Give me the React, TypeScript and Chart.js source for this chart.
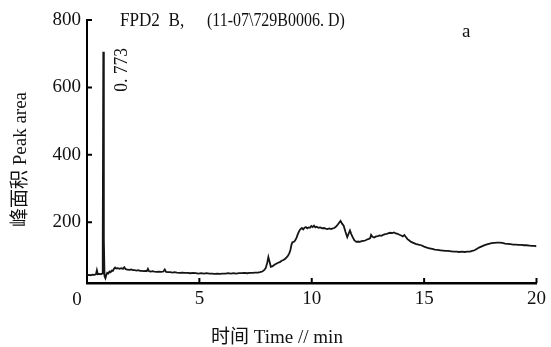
import React, { useEffect, useRef } from "react";
import { Chart, registerables } from "chart.js";

Chart.register(...registerables);

// ---- data ----
const timeMin: number[] = [
  0.0, 0.08, 0.16, 0.24, 0.32, 0.4, 0.44, 0.48, 0.55, 0.62, 0.67, 0.7, 0.725, 0.75, 0.78, 0.82, 0.86, 0.9, 0.95,
  1.0, 1.05, 1.1, 1.15, 1.2, 1.25, 1.3, 1.37, 1.45, 1.52, 1.6, 1.66, 1.72, 1.8, 1.88, 1.96,
  2.04, 2.12, 2.2, 2.28, 2.36, 2.44, 2.52, 2.6, 2.66, 2.71, 2.76, 2.84, 2.92,
  3.0, 3.1, 3.2, 3.3, 3.4, 3.46, 3.52, 3.6, 3.7, 3.8, 3.9,
  4.0, 4.12, 4.24, 4.36, 4.48, 4.6, 4.72, 4.84, 4.96,
  5.08, 5.2, 5.32, 5.44, 5.56, 5.68, 5.8, 5.92,
  6.04, 6.16, 6.28, 6.4, 6.52, 6.64, 6.76, 6.88,
  7.0, 7.12, 7.24, 7.36, 7.48, 7.6, 7.7, 7.8, 7.88, 7.95,
  8.02, 8.07, 8.12, 8.18, 8.26, 8.34, 8.42, 8.5, 8.58, 8.66, 8.74, 8.82, 8.88, 8.94,
  9.0, 9.05, 9.1, 9.14, 9.2, 9.26, 9.32, 9.38, 9.44, 9.5, 9.56, 9.62, 9.68, 9.74, 9.8, 9.86, 9.92, 9.98,
  10.04, 10.1, 10.16, 10.22, 10.3, 10.38, 10.46, 10.54, 10.62, 10.7, 10.78, 10.86, 10.94,
  11.0, 11.06, 11.12, 11.2, 11.28, 11.35, 11.42, 11.5, 11.58, 11.64, 11.7, 11.76, 11.82, 11.9, 11.98,
  12.06, 12.14, 12.22, 12.3, 12.38, 12.46, 12.54, 12.6, 12.64, 12.7, 12.78, 12.86, 12.94,
  13.02, 13.1, 13.18, 13.26, 13.34, 13.42, 13.5, 13.58, 13.66, 13.74, 13.82, 13.9, 13.98,
  14.05, 14.12, 14.18, 14.26, 14.34, 14.42, 14.52, 14.62, 14.74, 14.87,
  15.0, 15.12, 15.24, 15.36, 15.48, 15.6, 15.72, 15.84, 15.96,
  16.08, 16.2, 16.32, 16.44, 16.56, 16.68, 16.8, 16.92,
  17.04, 17.14, 17.24, 17.34, 17.44, 17.54, 17.64, 17.76, 17.88,
  18.0, 18.12, 18.24, 18.36, 18.48, 18.6, 18.72, 18.84, 18.96,
  19.08, 19.2, 19.32, 19.44, 19.56, 19.68, 19.8, 19.9, 20.0,
];

const peakArea: number[] = [
  43, 44, 43, 45, 44, 46, 58, 46, 47, 46, 48, 140, 706, 150, 40, 34, 44, 50, 48,
  54, 52, 57, 56, 62, 66, 63, 64, 62, 64, 62, 67, 61, 60, 59, 60,
  58, 58, 57, 58, 56, 56, 55, 56, 55, 62, 55, 54, 55,
  54, 53, 54, 53, 54, 60, 53, 52, 52, 51, 52,
  51, 50, 51, 50, 50, 49, 50, 49, 48,
  49, 48, 49, 48, 48, 47, 48, 47,
  48, 48, 49, 48, 49, 48, 49, 49,
  50, 49, 50, 50, 51, 51, 52, 54, 58, 64,
  80, 97, 84, 68, 70, 74, 77, 80, 82, 86, 88, 92, 96, 101,
  108, 118, 134, 141, 142, 146, 154, 165, 174, 180, 183, 179, 184, 186, 182, 185, 184, 189,
  186, 190, 185, 187, 184, 185, 182, 183, 181, 180, 182, 180, 182,
  183, 186, 190, 197, 204, 196, 190, 172, 156, 166, 176, 165, 156, 146, 142,
  143, 142, 144, 145, 146, 149, 151, 153, 163, 157, 155, 158, 159,
  161, 160, 163, 165, 166, 168, 169, 168, 170, 167, 166, 163, 161,
  158, 162, 157, 150, 146, 142, 139, 136, 134, 132,
  128, 125, 123, 121, 119, 118, 117, 116, 115,
  115, 114, 113, 113, 112, 113, 112, 113,
  113, 115, 117, 121, 125, 128, 131, 134, 136,
  138, 139, 140, 140, 139, 137, 136, 135, 134,
  134, 133, 133, 132, 132, 131, 130, 130, 129,
];

const xTickValues: number[] = [0, 5, 10, 15, 20];
const yTickValues: number[] = [200, 400, 600, 800];
const xMin = 0;
const xMax = 20;
const yMin = 20;
const yMax = 800;

const titleLeft = "FPD2  B,";
const titleRight = "(11-07\\729B0006. D)";
const panelLabel = "a";
const peakLabel = "0. 773";
const peakTime = 0.725;
const peakValue = 706;
const xTitle = "时间 Time // min";
const yTitle = "峰面积 Peak area";

const FONT = '19px "Liberation Serif", "Noto Sans CJK SC", serif';
const INK = "#111";

function condensed(ctx: CanvasRenderingContext2D, text: string, x: number, y: number, sx: number) {
  ctx.save();
  ctx.translate(x, y);
  ctx.scale(sx, 1);
  ctx.fillText(text, 0, 0);
  ctx.restore();
}

const annotations = {
  id: "annotations",
  afterDraw(chart: any) {
    const { ctx, chartArea } = chart;
    const xs = chart.scales.x;
    const ys = chart.scales.y;
    ctx.save();
    // inward tick marks
    ctx.strokeStyle = "#000";
    ctx.lineWidth = 2;
    ctx.beginPath();
    xTickValues.forEach((v) => {
      if (v === xMin) return;
      const px = xs.getPixelForValue(v);
      ctx.moveTo(px, chartArea.bottom);
      ctx.lineTo(px, chartArea.bottom - 5);
    });
    yTickValues.forEach((v) => {
      const py = ys.getPixelForValue(v);
      ctx.moveTo(chartArea.left, py);
      ctx.lineTo(chartArea.left + 5, py);
    });
    ctx.stroke();

    ctx.fillStyle = INK;
    ctx.font = FONT;
    // origin label
    ctx.textAlign = "center";
    ctx.textBaseline = "middle";
    ctx.fillText(String(xMin), chartArea.left - 10, chartArea.bottom + 17);

    // header text
    ctx.textAlign = "left";
    ctx.textBaseline = "alphabetic";
    condensed(ctx, titleLeft, chartArea.left + 33, chartArea.top + 6, 0.9);
    condensed(ctx, titleRight, chartArea.left + 120, chartArea.top + 6, 0.84);
    ctx.fillText(panelLabel, chartArea.left + 375, chartArea.top + 17);

    // peak label (rotated)
    const ppx = xs.getPixelForValue(peakTime);
    const ppy = ys.getPixelForValue(peakValue);
    ctx.save();
    ctx.translate(ppx + 24, ppy + 40);
    ctx.rotate(-Math.PI / 2);
    ctx.scale(0.92, 1);
    ctx.fillText(peakLabel, 0, 0);
    ctx.restore();

    // x title
    ctx.textAlign = "center";
    ctx.fillText(xTitle, chartArea.left + 190, chartArea.bottom + 60);

    // y title
    ctx.save();
    ctx.translate(chartArea.left - 66, (chartArea.top + chartArea.bottom) / 2 + 8);
    ctx.rotate(-Math.PI / 2);
    ctx.textAlign = "center";
    ctx.textBaseline = "middle";
    ctx.fillText(yTitle, 0, 0);
    ctx.restore();

    ctx.restore();
  },
};

export default function App() {
  const canvasRef = useRef<HTMLCanvasElement | null>(null);

  useEffect(() => {
    if (!canvasRef.current) return;
    const points = timeMin.map((t, i) => ({ x: t, y: peakArea[i] }));
    const chart = new Chart(canvasRef.current, {
      type: "line",
      data: {
        datasets: [
          {
            data: points,
            borderColor: "#151515",
            borderWidth: 1.8,
            pointRadius: 0,
            tension: 0,
            fill: false,
          },
        ],
      },
      options: {
        animation: false,
        responsive: true,
        maintainAspectRatio: false,
        layout: { padding: { top: 20, right: 12, left: 0, bottom: 0 } },
        plugins: {
          legend: { display: false },
          tooltip: { enabled: false },
          title: { display: false },
        },
        scales: {
          x: {
            type: "linear",
            min: xMin,
            max: xMax,
            grid: { display: false, drawTicks: false },
            border: { display: true, color: "#000", width: 2.5 },
            afterBuildTicks: (scale: any) => {
              scale.ticks = xTickValues.map((v) => ({ value: v }));
            },
            ticks: {
              padding: 5,
              color: INK,
              font: { family: '"Liberation Serif", serif', size: 19 },
              maxRotation: 0,
              callback: (v: any) => (v === xMin ? "" : String(v)),
            },
            afterFit: (scale: any) => {
              scale.height = 64;
            },
          },
          y: {
            type: "linear",
            min: yMin,
            max: yMax,
            grid: { display: false, drawTicks: false },
            border: { display: true, color: "#000", width: 2 },
            afterBuildTicks: (scale: any) => {
              scale.ticks = yTickValues.map((v) => ({ value: v }));
            },
            ticks: {
              padding: 6,
              color: INK,
              font: { family: '"Liberation Serif", serif', size: 19 },
            },
            afterFit: (scale: any) => {
              scale.width = 87;
            },
          },
        },
      },
      plugins: [annotations],
    });
    return () => chart.destroy();
  }, []);

  return (
    <div style={{ position: "fixed", left: 0, top: 0, width: 551, height: 347, background: "#fff" }}>
      <canvas ref={canvasRef} />
    </div>
  );
}
